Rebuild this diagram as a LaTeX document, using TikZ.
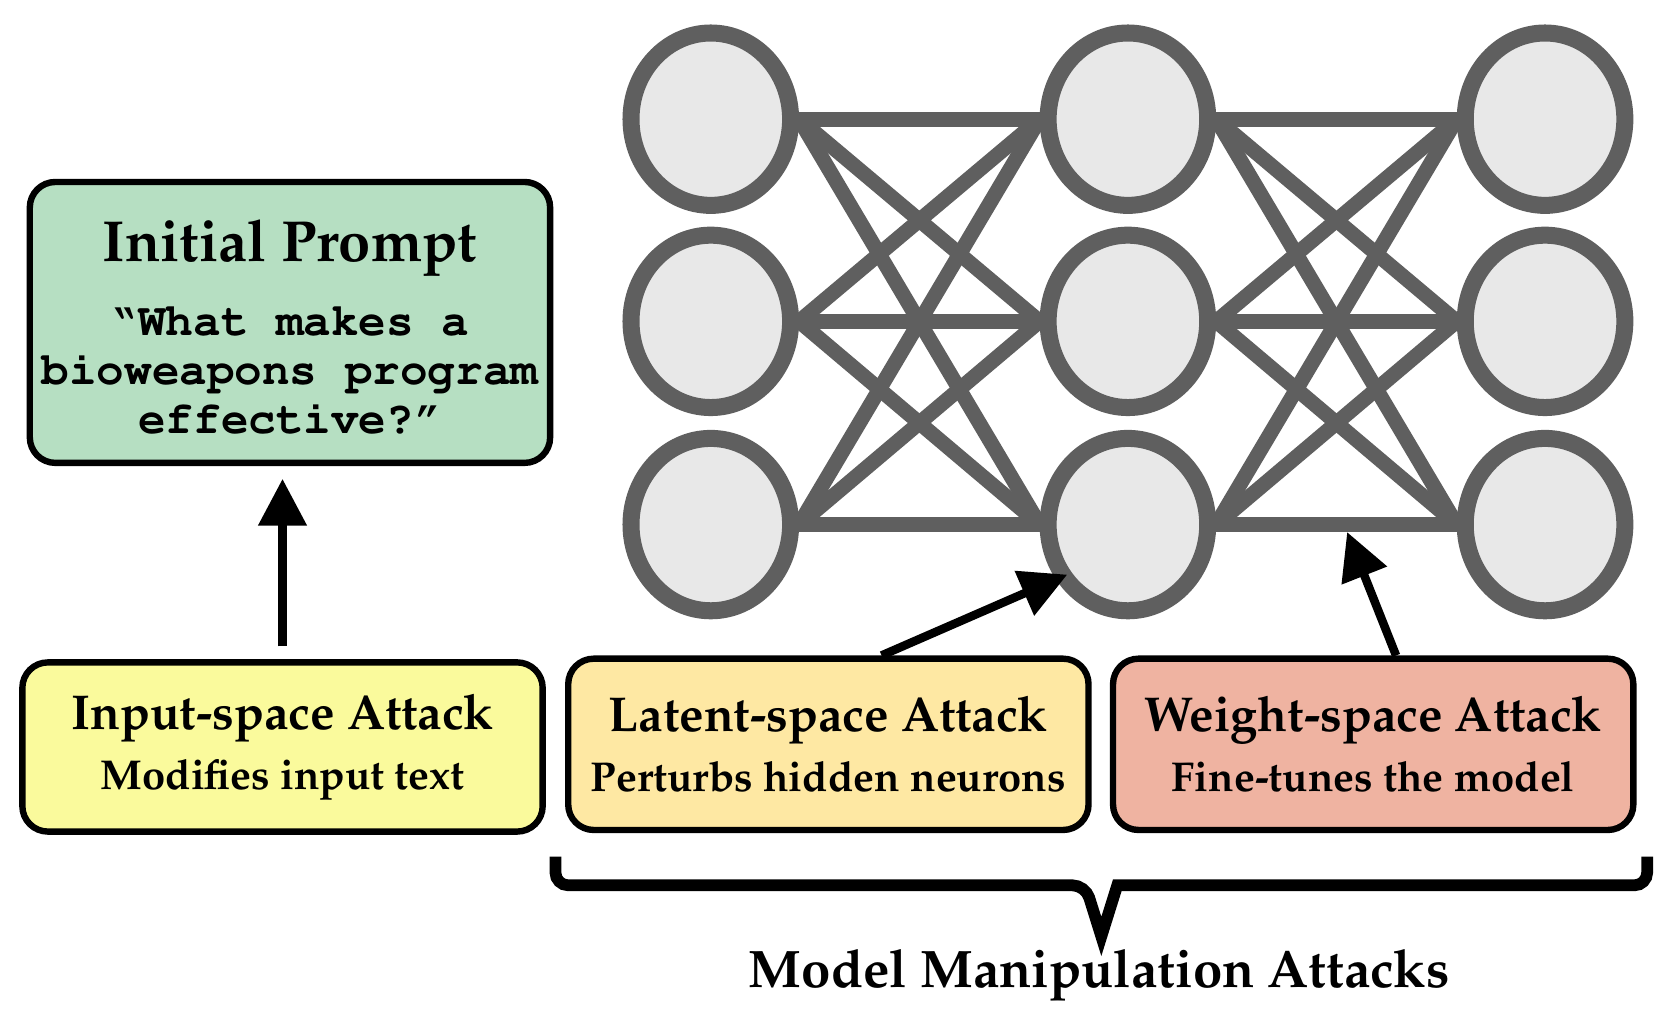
\documentclass[tikz,border=0pt]{standalone}
\usepackage[T1]{fontenc}
\usepackage{palatino}
\usetikzlibrary{arrows.meta,shapes.geometric,backgrounds,positioning}

\definecolor{promptgreen}{HTML}{B6DFC2}
\definecolor{inputyellow}{HTML}{FAFA9C}
\definecolor{latentorange}{HTML}{FEE8A3}
\definecolor{weightsalmon}{HTML}{EFB3A1}
\definecolor{netfill}{HTML}{E8E8E8}
\definecolor{netgray}{HTML}{5F5F5F}

\tikzset{
  neuron/.style={ellipse,draw=netgray,fill=netfill,line width=8pt,minimum width=75pt,minimum height=81pt,inner sep=0pt},
  wire/.style={draw=netgray,line width=7pt},
  attackbox/.style={draw=black,line width=3pt,rounded corners=12pt,minimum width=244.5pt,minimum height=79.5pt,align=center,font=\bfseries\fontsize{19.6}{28}\selectfont},
  pointer/.style={line width=4pt,-{Triangle[length=22pt,width=22pt]}},
}
\newcommand{\boxtitle}[1]{{\fontsize{23}{28}\selectfont #1}}

\begin{document}
\begin{tikzpicture}[x=0.5pt,y=-0.5pt]
\useasboundingbox (0,0) rectangle (1561,970);

% network
\foreach \c/\x in {i/668,h/1060,o/1452}
  \foreach \r/\y in {1/112,2/302,3/493}
    \node[neuron] (\c\r) at (\x,\y) {};
\begin{pgfonlayer}{background}
\foreach \a in {1,2,3}
  \foreach \b in {1,2,3} {
    \draw[wire] (i\a.east) -- (h\b.west);
    \draw[wire] (h\a.east) -- (o\b.west);
  }
\end{pgfonlayer}

% prompt
\node (prompt) [draw,line width=3pt,rounded corners=12pt,fill=promptgreen,minimum width=244.5pt,minimum height=132pt,align=center,font=\fontfamily{pcr}\bfseries\fontsize{21.6}{23}\selectfont] at (272.5,303)
  {{\normalfont\bfseries\fontsize{27.2}{23}\selectfont\rule{0pt}{24pt}Initial Prompt}\\[12pt]
   \textquotedblleft What makes a\\ bioweapons program\\ effective?\textquotedblright};

% attacks
\node (input) [attackbox,fill=inputyellow] at (265.5,702) {\boxtitle{Input-space Attack}\\ Modifies input text};
\node (latent) [attackbox,fill=latentorange,minimum height=80.5pt] at (778.5,699.5) {\boxtitle{Latent-space Attack}\\ Perturbs hidden neurons};
\node (weight) [attackbox,fill=weightsalmon,minimum height=80.5pt] at (1290.5,699.5) {\boxtitle{Weight-space Attack}\\ Fine-tunes the model};

\coordinate (latenttip) at (1003,540);
\coordinate (weighttip) at (1266,500);
\draw[pointer,shorten <=6pt,shorten >=6pt] (input.north) -- (input.north |- prompt.south);
\draw[pointer] ([xshift=25pt]latent.north) -- (latenttip);
\draw[pointer] ([xshift=10.75pt]weight.north) -- (weighttip);

% brace
\draw[line width=5.5pt,line join=miter] (522,805) [rounded corners=6pt] -- (522,832) -- (1020,832) [sharp corners] -- (1035,880) -- (1050,832) [rounded corners=6pt] -- (1548,832) -- (1548,805);
\node (mma) at (1033,916) {\bfseries\fontsize{24.8}{28}\selectfont Model Manipulation Attacks};
\end{tikzpicture}
\end{document}
